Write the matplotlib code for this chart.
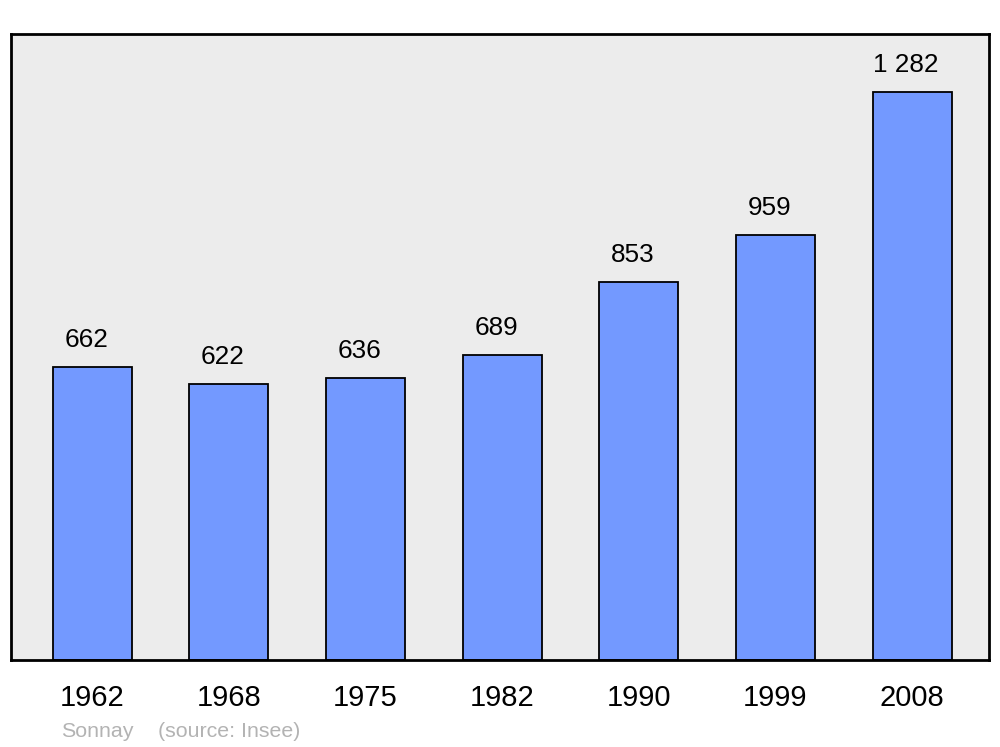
import matplotlib
matplotlib.use("Agg")
import matplotlib.pyplot as plt

years = ["1962", "1968", "1975", "1982", "1990", "1999", "2008"]
population = [662, 622, 636, 689, 853, 959, 1282]
value_labels = ["662", "622", "636", "689", "853", "959", "1 282"]
caption_name = "Sonnay"
caption_source = "(source: Insee)"

plt.rcParams['font.family'] = ['Liberation Sans', 'DejaVu Sans']

fig = plt.figure(figsize=(10, 7.47), dpi=100)
ax = fig.add_axes([0.011, 87 / 747, 0.978, 626 / 747])
ax.set_facecolor('#ececec')

x = list(range(len(years)))
ax.bar(x, population, width=0.578, color='#7399ff', edgecolor='black',
       linewidth=1.3, zorder=2)

for xi, v, lab in zip(x, population, value_labels):
    ax.annotate(lab, xy=(xi, v), xytext=(-4.3, 14.4), textcoords='offset points',
                ha='center', va='baseline', fontsize=18.8, color='black')

ax.set_xlim(-0.593, 6.563)
ax.set_ylim(0, 1413)
ax.set_yticks([])
ax.set_xticks(x)
ax.set_xticklabels(years, fontsize=21)
ax.tick_params(axis='x', length=0, pad=17)
for lbl in ax.get_xticklabels():
    lbl.set_x(lbl.get_position()[0])

for s in ax.spines.values():
    s.set_linewidth(2.0)
    s.set_color('black')

fig.text(0.061, 10 / 747, caption_name, fontsize=15.4, color='#b3b3b3',
         ha='left', va='baseline')
fig.text(0.158, 10 / 747, caption_source, fontsize=15.4, color='#b3b3b3',
         ha='left', va='baseline')

fig.savefig('out.png', dpi=100, facecolor='white')
